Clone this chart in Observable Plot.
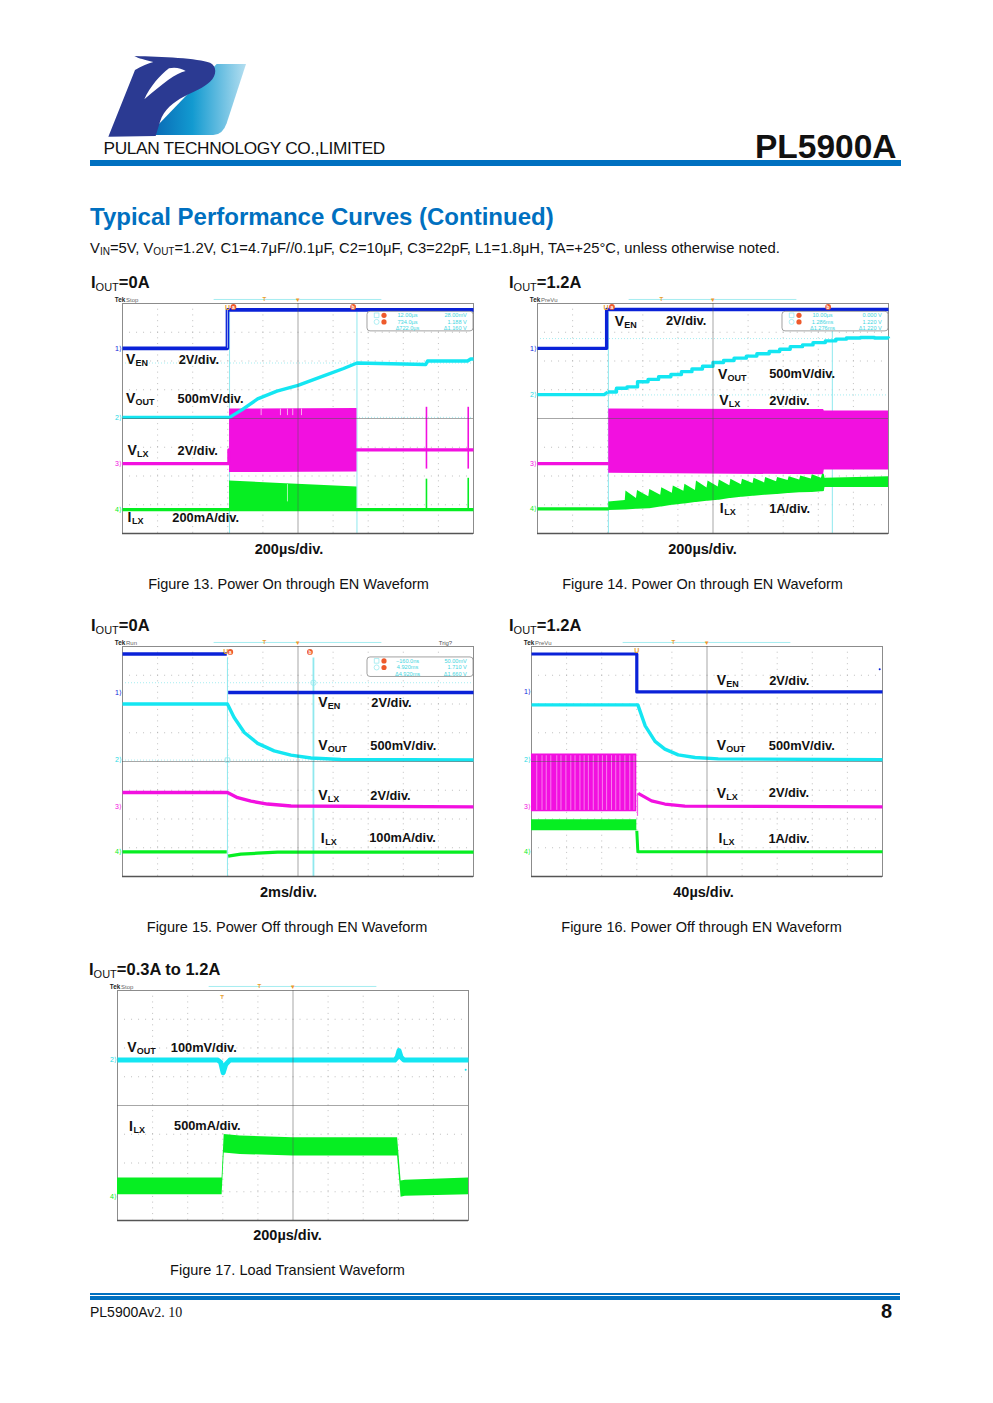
<!DOCTYPE html>
<html><head><meta charset="utf-8">
<script src="https://cdn.jsdelivr.net/npm/d3@7"></script>
<script src="https://cdn.jsdelivr.net/npm/@observablehq/plot@0.6"></script>
<style>
html,body{margin:0;padding:0;background:#fff}
#page{position:relative;width:993px;height:1403px;overflow:hidden;font-family:"Liberation Sans",Arial,sans-serif;color:#111}
.t{position:absolute;white-space:nowrap;line-height:1}
.c{transform:translate(-50%,-50%)}
.m{transform:translateY(-50%)}
.h{font-weight:bold;font-size:16.5px}
.h sub{font-size:11px;font-weight:normal;vertical-align:baseline;position:relative;top:3px}
.tm{font-weight:bold;font-size:14.5px}
.cap{font-size:14.5px}
.bar{position:absolute;background:#0070c0}
.sc{position:absolute}
.sc svg{overflow:visible;display:block}
</style></head><body><div id="page"></div>
<script>
// ---------- colours of the four scope channels
const blue="#0a22d8", cyan="#14e6f2", magenta="#f210e0", green="#06ee22", cursor="#8fe8ee";

// ---------- Figure 13 (x and y are scope divisions)
const f13VenX=[0,2.99,2.99,10], f13VenY=[6.44,6.44,7.78,7.78];
const f13VoutX=[0,3.05,3.4,3.85,4.4,5,5.75,6.3,6.68,8.64,8.69,9.83,9.92,10];
const f13VoutY=[4.04,4.04,4.3,4.68,4.95,5.15,5.49,5.74,5.93,5.88,6.0,6.0,6.07,6.07];
const f13VlxX=[0,3.03,3.03,6.68,6.68,10], f13VlxY=[2.43,2.43,2.91,2.91,2.91,2.91];
const f13VlxBandX=[3.05,6.68], f13VlxBandLo=[2.12,2.14], f13VlxBandHi=[4.33,4.35];
const f13IlxX=[0,10], f13IlxY=[0.83,0.83];
const f13IlxBandX=[3.05,4.5,5.6,6.68], f13IlxBandLo=[0.78,0.78,0.78,0.78], f13IlxBandHi=[1.83,1.74,1.68,1.62];
const f13Spikes=[8.66,9.85], f13SpikeVlxLo=[2.24,2.24], f13SpikeVlxHi=[4.39,4.39], f13SpikeIlxHi=[1.89,1.92];
const f13Slits=[3.95,4.5,4.7,4.85,5.1];
const f13Cursors=[3.05,6.68], f13HCursors=[5.93,4.04];
const f13Readout=[["12.00µs","28.00mV"],["734.0µs","1.188 V"],["Δ722.0µs","Δ1.160 V"]];

// ---------- Figure 14
const f14VenX=[0,1.97,1.97,10], f14VenY=[6.44,6.44,7.79,7.79];
const f14VoutFlatX=[0,1.9,2.0], f14VoutFlatY=[4.83,4.83,4.92];
const f14VoutX=[2.0,2.25,2.55,2.85,3.15,3.45,3.8,4.1,4.4,4.7,5.0,5.3,5.6,5.95,6.25,6.6,6.9,7.2,7.55,7.85,8.2,8.5,8.8,9.2,9.6,10];
const f14VoutY=[4.92,5.05,5.1,5.28,5.36,5.45,5.53,5.63,5.72,5.82,5.95,6.02,6.1,6.17,6.25,6.33,6.41,6.5,6.56,6.64,6.7,6.76,6.8,6.82,6.8,6.79];
const f14VlxX=[0,2.03], f14VlxY=[2.43,2.43];
const f14VlxBandX=[2.03,8.15,8.17,10], f14VlxBandLo=[2.1,2.04,2.21,2.21], f14VlxBandHi=[4.33,4.31,4.26,4.26];
const f14IlxX=[0,2.03], f14IlxY=[0.86,0.86];
const f14IlxBandX=[2.03,2.5,2.52,2.82,2.85,3.17,3.2,3.51,3.54,3.84,3.87,4.17,4.2,4.5,4.53,4.83,4.86,5.15,5.18,5.48,5.51,5.81,5.84,6.14,6.17,6.47,6.5,6.81,6.84,7.14,7.17,7.47,7.5,7.8,7.83,8.09,8.12,8.17,8.19,10];
const f14IlxBandLo=[0.8,0.82,0.82,0.84,0.84,0.86,0.86,0.92,0.92,0.98,0.98,1.03,1.03,1.08,1.08,1.12,1.12,1.16,1.16,1.22,1.22,1.26,1.26,1.3,1.3,1.33,1.33,1.36,1.36,1.39,1.39,1.42,1.42,1.43,1.43,1.45,1.45,1.46,1.6,1.6];
const f14IlxBandHi=[1.1,1.15,1.48,1.22,1.5,1.28,1.53,1.33,1.59,1.4,1.65,1.47,1.71,1.5,1.83,1.58,1.83,1.62,1.86,1.66,1.89,1.7,1.89,1.74,1.92,1.76,1.95,1.8,1.95,1.84,1.97,1.86,2.0,1.9,2.04,1.92,2.06,2.06,1.92,1.97];
const f14Cursors=[2.02,8.4], f14HCursors=[6.78,4.82];
const f14Readout=[["10.00µs","0.000 V"],["1.286ms","1.220 V"],["Δ1.276ms","Δ1.220 V"]];

// ---------- Figure 15
const f15VenAX=[0,2.97], f15VenAY=[7.74,7.74], f15VenBX=[3.01,10], f15VenBY=[6.4,6.4];
const f15VoutX=[0,2.99,3.18,3.47,3.85,4.32,4.8,5.37,6.22,10];
const f15VoutY=[6.0,6.0,5.53,5.01,4.63,4.37,4.22,4.12,4.07,4.05];
const f15VlxX=[0,2.99,3.28,3.66,4.13,4.8,10];
const f15VlxY=[2.92,2.92,2.74,2.62,2.52,2.45,2.42];
const f15IlxAX=[0,2.97], f15IlxAY=[0.86,0.86];
const f15IlxBX=[3.01,3.37,3.85,4.42,10], f15IlxBY=[0.71,0.78,0.81,0.85,0.85];
const f15Cursors=[2.99,5.44], f15HCursors=[6.74,4.05];
const f15Readout=[["−160.0ns","50.00mV"],["4.920ms","1.710 V"],["Δ4.920ms","Δ1.660 V"]];

// ---------- Figure 16
const f16VenX=[0,3.0,3.0,10], f16VenY=[7.74,7.74,6.42,6.42];
const f16VoutX=[0,3.03,3.24,3.52,3.8,4.18,4.66,5.32,10];
const f16VoutY=[5.97,5.97,5.24,4.7,4.43,4.23,4.14,4.09,4.06];
const f16VlxBandX=[0,3.0], f16VlxBandLo=[2.25,2.25], f16VlxBandHi=[4.26,4.26];
const f16VlxX=[3.04,3.42,3.8,4.37,10], f16VlxY=[2.89,2.63,2.52,2.45,2.42];
const f16VlxDrop=[3.02], f16VlxDropLo=[2.09], f16VlxDropHi=[2.89];
const f16Slits=[0.15,0.3,0.42,0.55,0.72,0.84,0.98,1.12,1.24,1.38,1.5,1.62,1.76,1.9,2.02,2.14,2.28,2.4,2.52,2.66,2.8,2.92];
const f16IlxBandX=[0,3.0], f16IlxBandLo=[1.59,1.59], f16IlxBandHi=[1.97,1.97];
const f16IlxX=[3.0,3.03,10], f16IlxY=[1.59,0.86,0.86];

// ---------- Figure 17
const f17VoutX=[0,2.86,2.94,3.01,3.08,3.2,7.9,7.97,8.02,8.08,8.16,10];
const f17VoutY=[5.58,5.58,5.5,5.14,5.42,5.58,5.58,5.68,5.91,5.68,5.58,5.58];
const f17IlxBandX=[0,2.98,3.04,3.5,5,7.98,8.08,8.2,10];
const f17IlxBandLo=[0.9,0.9,2.35,2.3,2.24,2.24,0.81,0.84,0.9];
const f17IlxBandHi=[1.48,1.48,2.99,2.94,2.88,2.88,1.37,1.4,1.48];

// ---------- trace labels: symbol, subscript, scale text
const names=[["V","EN"],["V","OUT"],["V","LX"],["I","LX"]];
const f13Scales=["2V/div.","500mV/div.","2V/div.","200mA/div."];
const f14Scales=["2V/div.","500mV/div.","2V/div.","1A/div."];
const f15Scales=["2V/div.","500mV/div.","2V/div.","100mA/div."];
const f16Scales=["2V/div.","500mV/div.","2V/div.","1A/div."];
const f17Scales=["100mV/div.","500mA/div."];

// ---------- page text
const headers=["=0A","=1.2A","=0A","=1.2A","=0.3A to 1.2A"];
const timebases=["200µs/div.","200µs/div.","2ms/div.","40µs/div.","200µs/div."];
const captions=["Figure 13. Power On through EN Waveform","Figure 14. Power On through EN Waveform","Figure 15. Power Off through EN Waveform","Figure 16. Power Off through EN Waveform","Figure 17. Load Transient Waveform"];

// ---------- helpers
const FONT='"Liberation Sans",Arial,sans-serif';
const pts=(x,y)=>x.map((v,i)=>({x:v,y:y[i]}));
const band=(x,lo,hi)=>x.map((v,i)=>({x:v,lo:lo[i],hi:hi[i]}));
const line=(x,y,stroke,strokeWidth=3.2,o={})=>Plot.line(pts(x,y),{x:"x",y:"y",stroke,strokeWidth,strokeLinecap:"butt",...o});
const area=(x,lo,hi,fill)=>Plot.areaY(band(x,lo,hi),{x:"x",y1:"lo",y2:"hi",fill});
const rules=(x,lo,hi,stroke,strokeWidth=1.4,o={})=>Plot.ruleX(x.map((v,i)=>({x:v,lo:Array.isArray(lo)?lo[i]:lo,hi:Array.isArray(hi)?hi[i]:hi})),{x:"x",y1:"lo",y2:"hi",stroke,strokeWidth,...o});

function label(name,scale,xName,xScale,y){
  const common={frameAnchor:undefined,fontFamily:FONT,fontWeight:"bold",fill:"#111",textAnchor:"start"};
  return [
    Plot.text([name[0]],{x:xName,y,text:d=>d,fontSize:14,...common}),
    Plot.text([name[1]],{x:xName,y,text:d=>d,fontSize:9,dx:name[0]==="V"?9.5:4.5,dy:3.5,...common}),
    Plot.text([scale],{x:xScale,y,text:d=>d,fontSize:12.8,...common})
  ];
}
function tiny(str,x,y,fill,size=6,anchor="start",weight="normal"){
  return Plot.text([str],{x,y,text:d=>d,fill,fontSize:size,textAnchor:anchor,fontFamily:FONT,fontWeight:weight});
}
function readout(rows,top){
  const ys=[top-0.12,top-0.35,top-0.57];
  const marks=[
    Plot.rect([1],{x1:6.98,x2:10,y1:top-0.68,y2:top,fill:"#fff",stroke:"#8a8a8a",strokeWidth:0.8,rx:3}),
    Plot.dot([1],{x:7.24,y:ys[0],symbol:"square",r:2.6,stroke:cursor,strokeWidth:0.7}),
    Plot.dot([1],{x:7.24,y:ys[1],r:2.5,stroke:cursor,strokeWidth:0.7}),
    Plot.dot([1],{x:7.45,y:ys[0],r:2.6,fill:"#ee5a2c"}),
    Plot.dot([1],{x:7.45,y:ys[1],r:2.6,fill:"#ee5a2c"})
  ];
  rows.forEach((r,i)=>{
    marks.push(tiny(r[0],8.12,ys[i],"#3fd5e0",5.6,"middle"));
    marks.push(tiny(r[1],9.81,ys[i],"#3fd5e0",5.6,"end"));
  });
  return marks;
}
function scope(o){
  const divsX=d3.range(1,10), divsY=d3.range(1,8);
  const grid=[
    Plot.ruleX(divsX.filter(d=>d!==5),{stroke:"#9a9a9a",strokeWidth:0.9,strokeDasharray:"1 4.72",strokeOpacity:0.7}),
    Plot.ruleY(divsY.filter(d=>d!==4),{stroke:"#9a9a9a",strokeWidth:0.9,strokeDasharray:"1 6.02",strokeOpacity:0.7}),
  ];
  const center=[Plot.ruleX([5],{stroke:"#555",strokeWidth:0.8,strokeOpacity:0.65}),Plot.ruleY([4],{stroke:"#555",strokeWidth:0.8,strokeOpacity:0.65})];
  const cursors=[
    ...(o.hCursors||[]).map(y=>Plot.ruleY([y],{stroke:cursor,strokeWidth:0.8,strokeDasharray:"1 2"})),
    ...(o.cursors||[]).map((x,i)=>Plot.ruleX([x],{y1:0,y2:o.cursorTop,stroke:cursor,strokeWidth:o.cursorWidths?o.cursorWidths[i]:1}))
  ];
  const top=[
    Plot.ruleY([8.14],{x1:2.61,x2:7.39,stroke:"#8fe8ee",strokeWidth:0.8}),
    tiny("T",o.recT,8.14,"#e8a030",6,"middle","bold"),
    tiny("▾",5,8.13,"#f0962a",7,"middle"),
    tiny("Tek",-0.22,8.12,"#222",6.3,"start","bold"),
    tiny(o.status,0.1,8.12,"#666",6,"start"),
    ...(o.channels||[]).map(([n,y,c])=>tiny(n+"⟩",-0.02,y,c,7,"end"))
  ];
  return Plot.plot({
    width:375, height:246, marginLeft:22, marginRight:2, marginTop:14, marginBottom:2,
    x:{domain:[0,10],axis:null}, y:{domain:[0,8],axis:null},
    style:{background:"transparent",fontFamily:FONT},
    marks:[
      ...grid,...cursors,
      Plot.frame({stroke:"#8c8c8c",strokeWidth:1}),
      Plot.ruleY([0],{stroke:"#555",strokeWidth:1.3}),
      ...o.traces,
      ...center,
      ...(o.extras||[]),
      ...top,
      ...(o.labels||[])
    ]
  });
}
const redDot=(x,y,l)=>[Plot.dot([1],{x,y,r:2.9,fill:"#ee5a2c"}),tiny(l,x,y,"#fff",5,"middle","bold")];
const orangeU=(x,y)=>tiny("U",x,y,"#e8a030",7,"middle","bold");

// ---------- the five scope screens
const ch=(a,b,c,d)=>[["1",a,blue],["2",b,"#1fd8e4"],["3",c,magenta],["4",d,green]];
const scopes=[
 {left:99.7,top:289,status:"Stop",recT:4.04,cursors:f13Cursors,cursorTop:7.7,hCursors:f13HCursors,channels:ch(6.44,4.04,2.43,0.83),
  traces:[
   area(f13VlxBandX,f13VlxBandLo,f13VlxBandHi,magenta),
   rules(f13Slits,4.1,4.33,"#f9a9ef",1),
   line(f13VlxX,f13VlxY,magenta),
   rules(f13Spikes,f13SpikeVlxLo,f13SpikeVlxHi,magenta,1.6),
   area(f13IlxBandX,f13IlxBandLo,f13IlxBandHi,green),
   rules([4.7],1.1,1.7,"#a8f7b0",1),
   line(f13IlxX,f13IlxY,green),
   rules(f13Spikes,0.8,f13SpikeIlxHi,green,1.6),
   line(f13VoutX,f13VoutY,cyan,3.4),
   line(f13VenX,f13VenY,blue,3.6,{}),
   rules([2.99],6.44,7.78,"#9aa8ee",1)
  ],
  extras:[...readout(f13Readout,7.71),orangeU(2.99,7.85),...redDot(3.16,7.88,"a"),...redDot(6.57,7.88,"b")],
  labels:[...label(names[0],f13Scales[0],0.1,1.6,6.04),...label(names[1],f13Scales[1],0.1,1.57,4.69),...label(names[2],f13Scales[2],0.14,1.57,2.88),...label(names[3],f13Scales[3],0.14,1.42,0.54)]},
 {left:514.7,top:289,status:"PreVu",recT:3.53,cursors:f14Cursors,cursorTop:7.7,hCursors:f14HCursors,channels:ch(6.44,4.82,2.43,0.86),
  traces:[
   area(f14VlxBandX,f14VlxBandLo,f14VlxBandHi,magenta),
   line(f14VlxX,f14VlxY,magenta),
   area(f14IlxBandX,f14IlxBandLo,f14IlxBandHi,green),
   line(f14IlxX,f14IlxY,green),
   line(f14VoutFlatX,f14VoutFlatY,cyan,3.2),
   line(f14VoutX,f14VoutY,cyan,3.4,{curve:"step-after"}),
   line(f14VenX,f14VenY,blue,3.4)
  ],
  extras:[...readout(f14Readout,7.71),orangeU(1.95,7.85),...redDot(2.12,7.88,"a"),...redDot(8.28,7.88,"b")],
  labels:[...label(names[0],f14Scales[0],2.2,3.66,7.38),...label(names[1],f14Scales[1],5.14,6.6,5.54),...label(names[2],f14Scales[2],5.18,6.6,4.62),...label(names[3],f14Scales[3],5.19,6.6,0.86)]},
 {left:99.7,top:632,status:"Run",recT:4.04,cursors:f15Cursors,cursorWidths:[1,1.8],cursorTop:7.6,hCursors:f15HCursors,channels:ch(6.4,4.05,2.42,0.86),
  traces:[
   line(f15IlxAX,f15IlxAY,green),
   line(f15IlxBX,f15IlxBY,green,3.2),
   line(f15VlxX,f15VlxY,magenta,3.4),
   line(f15VoutX,f15VoutY,cyan,3.4),
   line(f15VenAX,f15VenAY,blue,3.4),
   line(f15VenBX,f15VenBY,blue,3.4)
  ],
  extras:[...readout(f15Readout,7.62),
   Plot.dot([1],{x:5.44,y:6.74,r:2.7,stroke:cursor,strokeWidth:0.8}),
   Plot.dot([1],{x:2.99,y:4.05,symbol:"square",r:2.5,stroke:cursor,strokeWidth:0.8}),
   orangeU(2.94,7.81),...redDot(3.07,7.81,"a"),...redDot(5.34,7.81,"b"),tiny("Trig?",9.2,8.12,"#555",6,"middle")],
  labels:[...label(names[0],f15Scales[0],5.58,7.09,6.05),...label(names[1],f15Scales[1],5.58,7.06,4.54),...label(names[2],f15Scales[2],5.58,7.06,2.81),...label(names[3],f15Scales[3],5.65,7.03,1.33)]},
 {left:509.3,top:632,status:"PreVu",recT:4.04,channels:ch(6.42,4.06,2.42,0.86),
  traces:[
   area(f16VlxBandX,f16VlxBandLo,f16VlxBandHi,magenta),
   rules(f16Slits,2.3,4.2,"#f88bee",0.9),
   rules(f16VlxDrop,f16VlxDropLo,f16VlxDropHi,"#f65fe8",1.2),
   line(f16VlxX,f16VlxY,magenta,3.2),
   area(f16IlxBandX,f16IlxBandLo,f16IlxBandHi,green),
   line(f16IlxX,f16IlxY,green,3),
   line(f16VoutX,f16VoutY,cyan,3.4),
   line(f16VenX,f16VenY,blue,3.2)
  ],
  extras:[orangeU(3.0,7.84),Plot.dot([1],{x:9.92,y:7.21,r:1,fill:blue})],
  labels:[...label(names[0],f16Scales[0],5.28,6.77,6.81),...label(names[1],f16Scales[1],5.28,6.76,4.54),...label(names[2],f16Scales[2],5.28,6.76,2.9),...label(names[3],f16Scales[3],5.33,6.75,1.32)]},
 {left:94.7,top:975.5,status:"Stop",recT:4.04,channels:[["2",5.58,"#1fd8e4"],["4",0.83,green]],
  traces:[
   area(f17IlxBandX,f17IlxBandLo,f17IlxBandHi,green),
   line(f17VoutX,f17VoutY,cyan,5)
  ],
  extras:[tiny("T",2.98,7.77,"#e8a030",6,"middle","bold"),Plot.dot([1],{x:9.92,y:5.24,r:1,fill:cyan})],
  labels:[...label(names[1],f17Scales[0],0.28,1.52,6.02),...label(names[3],f17Scales[1],0.33,1.61,3.28)]}
];

// ---------- page assembly
const page=document.getElementById("page");
function put(html,cls,left,top,style=""){
  const e=document.createElement("div");e.className="t "+cls;e.style.cssText=`left:${left}px;top:${top}px;${style}`;e.innerHTML=html;page.appendChild(e);return e;
}
function rect(l,t,w,h){const e=document.createElement("div");e.className="bar";e.style.cssText=`left:${l}px;top:${t}px;width:${w}px;height:${h}px`;page.appendChild(e);}

// logo
const logo=document.createElement("div");
logo.style.cssText="position:absolute;left:85px;top:40px;width:320px;height:130px";
logo.innerHTML=`<svg width="320" height="130" viewBox="0 0 960 390"><defs><linearGradient id="lg" x1="0" x2="1" y1="0" y2="0"><stop offset="0.1" stop-color="#0a6fb8"/><stop offset="0.45" stop-color="#129ad0"/><stop offset="1" stop-color="#b4def0"/></linearGradient></defs>
<path d="M395 72 L483 72 L425 250 Q413 285 385 285 L190 285 Z" fill="url(#lg)"/>
<path d="M148 48 C230 50 340 55 375 68 C396 78 396 105 375 125 C340 160 250 170 225 245 L212 288 L70 290 L150 90 C170 78 190 70 205 66 C180 60 160 55 148 48 Z" fill="#2b3a92"/>
<path d="M178 178 C195 140 225 105 252 85 C270 80 290 85 302 93 C270 100 235 130 178 178 Z" fill="#fff"/></svg>`;
page.appendChild(logo);

put("PULAN TECHNOLOGY CO.,LIMITED","",103.5,139.5,"font-size:17.3px;letter-spacing:-0.35px");
put("PL5900A","",755,130,"font-size:33.5px;font-weight:bold");
rect(90,160,811,6);
put("Typical Performance Curves (Continued)","",90,204.5,"font-size:24px;font-weight:bold;color:#0070c0");
put('V<sub style="font-size:10px;vertical-align:baseline;position:relative;top:2px">IN</sub>=5V, V<sub style="font-size:10px;vertical-align:baseline;position:relative;top:2px">OUT</sub>=1.2V, C1=4.7μF//0.1μF, C2=10μF, C3=22pF, L1=1.8μH, TA=+25°C, unless otherwise noted.',"",90,240.5,"font-size:14.8px");

const headPos=[[91,274],[509,274],[91,617],[509,617],[89,961]];
const timePos=[[289,549],[702.5,549],[288.5,892],[703.5,892],[287.5,1235]];
const capPos=[[288.5,584],[702.5,584],[287,927],[701.5,927],[287.5,1270]];
const hSub='I<sub>OUT</sub>';
headers.forEach((h,i)=>put(hSub+h,"h",headPos[i][0],headPos[i][1]));
scopes.forEach((s,i)=>{
  const box=document.createElement("div");box.className="sc";box.style.left=s.left+"px";box.style.top=s.top+"px";
  box.appendChild(scope(s));page.appendChild(box);
  put(timebases[i],"tm c",timePos[i][0],timePos[i][1]);
  put(captions[i],"cap c",capPos[i][0],capPos[i][1]);
});

// footer
rect(90,1293,810,1.5);
rect(90,1295.5,810,4.5);
put('PL5900Av<span style="font-family:\'Liberation Serif\',serif">2. 10</span>',"",90,1304.5,"font-size:14px");
put("8","c",886.5,1311,"font-size:20px;font-weight:bold");
</script></body></html>
